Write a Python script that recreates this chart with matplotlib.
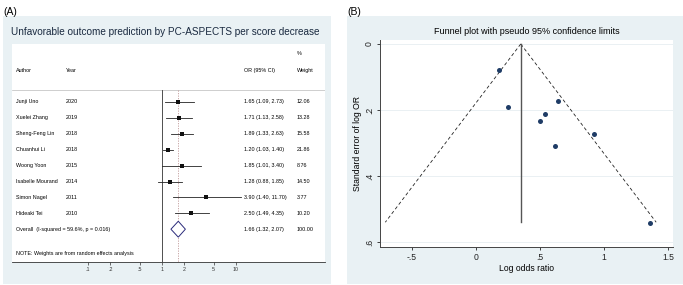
import numpy as np
import matplotlib
matplotlib.use("Agg")
import matplotlib.pyplot as plt
from matplotlib.patches import Polygon

plt.rcParams['font.family'] = ['Liberation Sans', 'DejaVu Sans']

# ---------------- data ----------------
authors = ["Junji Uno", "Xuelei Zhang", "Sheng-Feng Lin", "Chuanhui Li",
           "Woong Yoon", "Isabelle Mourand", "Simon Nagel", "Hideaki Tei"]
years = ["2020", "2019", "2018", "2018", "2015", "2014", "2011", "2010"]
or_est = [1.65, 1.71, 1.89, 1.20, 1.85, 1.28, 3.90, 2.50]
or_lo = [1.09, 1.13, 1.33, 1.03, 1.01, 0.88, 1.40, 1.49]
or_hi = [2.73, 2.58, 2.63, 1.40, 3.40, 1.85, 11.70, 4.35]
weights = [12.06, 13.28, 15.58, 21.86, 8.76, 14.50, 3.77, 10.20]
overall = (1.66, 1.32, 2.07)
overall_label = "Overall  (I-squared = 59.6%, p = 0.016)"
forest_ticks = [0.1, 0.2, 0.5, 1, 2, 5, 10]
forest_ticklabels = [".1", ".2", ".5", "1", "2", "5", "10"]

# funnel plot points (log OR, standard error)
funnel_logor = [0.50, 0.54, 0.64, 0.18, 0.62, 0.25, 1.36, 0.92]
funnel_se = [0.234, 0.211, 0.174, 0.078, 0.310, 0.190, 0.542, 0.273]
pooled_logor = 0.35
max_se = 0.54
funnel_xticks = [-0.5, 0, 0.5, 1, 1.5]
funnel_xticklabels = ["-.5", "0", ".5", "1", "1.5"]
funnel_yticks = [0, 0.2, 0.4, 0.6]
funnel_yticklabels = ["0", ".2", ".4", ".6"]

# ---------------- figure ----------------
W, H = 683, 285
fig = plt.figure(figsize=(W / 100, H / 100), dpi=100)
fig.patch.set_facecolor("white")

def box(x0, y0, x1, y1):
    """pixel box (top-left origin) -> fig fraction [l, b, w, h]"""
    return [x0 / W, 1 - y1 / H, (x1 - x0) / W, (y1 - y0) / H]

BG = "#e9f1f4"

# backgrounds
bgA = fig.add_axes(box(3, 16, 331, 284))
bgA.set_facecolor(BG); bgA.set_xticks([]); bgA.set_yticks([])
for s in bgA.spines.values(): s.set_visible(False)
bgB = fig.add_axes(box(347, 16, 683, 284))
bgB.set_facecolor(BG); bgB.set_xticks([]); bgB.set_yticks([])
for s in bgB.spines.values(): s.set_visible(False)

fig.text(3 / W, 1 - 12 / H, "(A)", fontsize=7.5, va="center", ha="left")
fig.text(347 / W, 1 - 12 / H, "(B)", fontsize=7.5, va="center", ha="left")

# ---------------- panel A: forest plot ----------------
ax = fig.add_axes(box(12, 44, 325, 262))
ax.set_facecolor("white")
ax.set_xscale("log")
x_left = 10 ** ((12 - 162) / 74)
x_right = 10 ** ((325 - 162) / 74)
ax.set_xlim(x_left, x_right)
row_h = 15.9
ax.set_ylim((262 - 102) / row_h, (44 - 102) / row_h)
for s in ["top", "right", "left"]:
    ax.spines[s].set_visible(False)
ax.spines["bottom"].set_color("#333333")
ax.spines["bottom"].set_linewidth(0.6)
ax.set_yticks([])
ax.set_xticks(forest_ticks)
ax.set_xticklabels(forest_ticklabels)
ax.minorticks_off()
ax.tick_params(axis="x", labelsize=3.8, length=2, width=0.5, pad=1.5, colors="#333333")

trans = ax.get_yaxis_transform()  # x in axes fraction, y in data
def fx(px):
    return (px - 12) / (325 - 12)

fs = 3.9
hdr_y = (71 - 102) / row_h
pct_y = (54 - 102) / row_h
sep_y = (90 - 102) / row_h
ax.text(fx(16), hdr_y, "Author", transform=trans, fontsize=fs, va="center")
ax.text(fx(66), hdr_y, "Year", transform=trans, fontsize=fs, va="center")
ax.text(fx(244), hdr_y, "OR (95% CI)", transform=trans, fontsize=fs, va="center")
ax.text(fx(297), hdr_y, "Weight", transform=trans, fontsize=fs, va="center")
ax.text(fx(297), pct_y, "%", transform=trans, fontsize=fs, va="center")
ax.plot([0, 1], [sep_y, sep_y], transform=trans, color="#bbbbbb", lw=0.5)

n = len(authors)
bottom_y = (262 - 102) / row_h
ax.plot([1, 1], [sep_y, bottom_y], color="#333333", lw=0.6)
ax.plot([overall[0], overall[0]], [sep_y, bottom_y], color="#c09a9a", lw=0.6,
        ls=(0, (1.5, 1.5)))

for i in range(n):
    ax.plot([or_lo[i], or_hi[i]], [i, i], color="#222222", lw=0.6)
    ax.plot(or_est[i], i, marker="s", color="#111111",
            markersize=2.0 + 0.05 * weights[i], markeredgewidth=0)
    ax.text(fx(16), i, authors[i], transform=trans, fontsize=fs, va="center")
    ax.text(fx(66), i, years[i], transform=trans, fontsize=fs, va="center")
    ax.text(fx(244), i, f"{or_est[i]:.2f} ({or_lo[i]:.2f}, {or_hi[i]:.2f})",
            transform=trans, fontsize=fs, va="center")
    ax.text(fx(297), i, f"{weights[i]:.2f}", transform=trans, fontsize=fs, va="center")

oy = n
dh = 0.5
diamond = Polygon([[overall[1], oy], [overall[0], oy - dh], [overall[2], oy],
                   [overall[0], oy + dh]], closed=True, facecolor="white",
                  edgecolor="#2a2a7a", lw=0.7, zorder=3)
ax.add_patch(diamond)
ax.text(fx(16), oy, overall_label, transform=trans, fontsize=fs, va="center")
ax.text(fx(244), oy, f"{overall[0]:.2f} ({overall[1]:.2f}, {overall[2]:.2f})",
        transform=trans, fontsize=fs, va="center")
ax.text(fx(297), oy, "100.00", transform=trans, fontsize=fs, va="center")
ax.text(fx(16), (253 - 102) / row_h, "NOTE: Weights are from random effects analysis",
        transform=trans, fontsize=fs, va="center")

fig.text(11 / W, 1 - 32 / H,
         "Unfavorable outcome prediction by PC-ASPECTS per score decrease",
         fontsize=7.2, va="center", ha="left", color="#1a2a40")

# ---------------- panel B: funnel plot ----------------
bx = fig.add_axes(box(380, 40, 673, 247))
bx.set_facecolor("white")
bx.set_xlim(-0.75, 1.54)
bx.set_ylim(0.615, -0.012)
for s in ["top", "right"]:
    bx.spines[s].set_visible(False)
for s in ["left", "bottom"]:
    bx.spines[s].set_color("#444444")
    bx.spines[s].set_linewidth(0.7)
bx.set_xticks(funnel_xticks)
bx.set_xticklabels(funnel_xticklabels)
bx.set_yticks(funnel_yticks)
bx.set_yticklabels(funnel_yticklabels, rotation=90, va="center")
bx.tick_params(labelsize=6.2, length=2.5, width=0.6, pad=2, colors="#222222")
for yt in funnel_yticks:
    bx.axhline(yt, color="#e6eef1", lw=0.6, zorder=0)

se_line = np.array([0, max_se])
bx.plot(pooled_logor - 1.96 * se_line, se_line, color="#222222", lw=0.6,
        ls=(0, (4, 3)))
bx.plot(pooled_logor + 1.96 * se_line, se_line, color="#222222", lw=0.6,
        ls=(0, (4, 3)))
bx.plot([pooled_logor, pooled_logor], [0, max_se], color="#555555", lw=1.0)
bx.plot(funnel_logor, funnel_se, "o", color="#1f3c66", markersize=3.6,
        markeredgewidth=0, zorder=4)
bx.set_xlabel("Log odds ratio", fontsize=6.2, labelpad=1)
bx.set_ylabel("Standard error of log OR", fontsize=6.2, labelpad=2)
fig.text(527 / W, 1 - 32 / H, "Funnel plot with pseudo 95% confidence limits",
         fontsize=6.5, va="center", ha="center")

fig.savefig("out.png", dpi=100)
